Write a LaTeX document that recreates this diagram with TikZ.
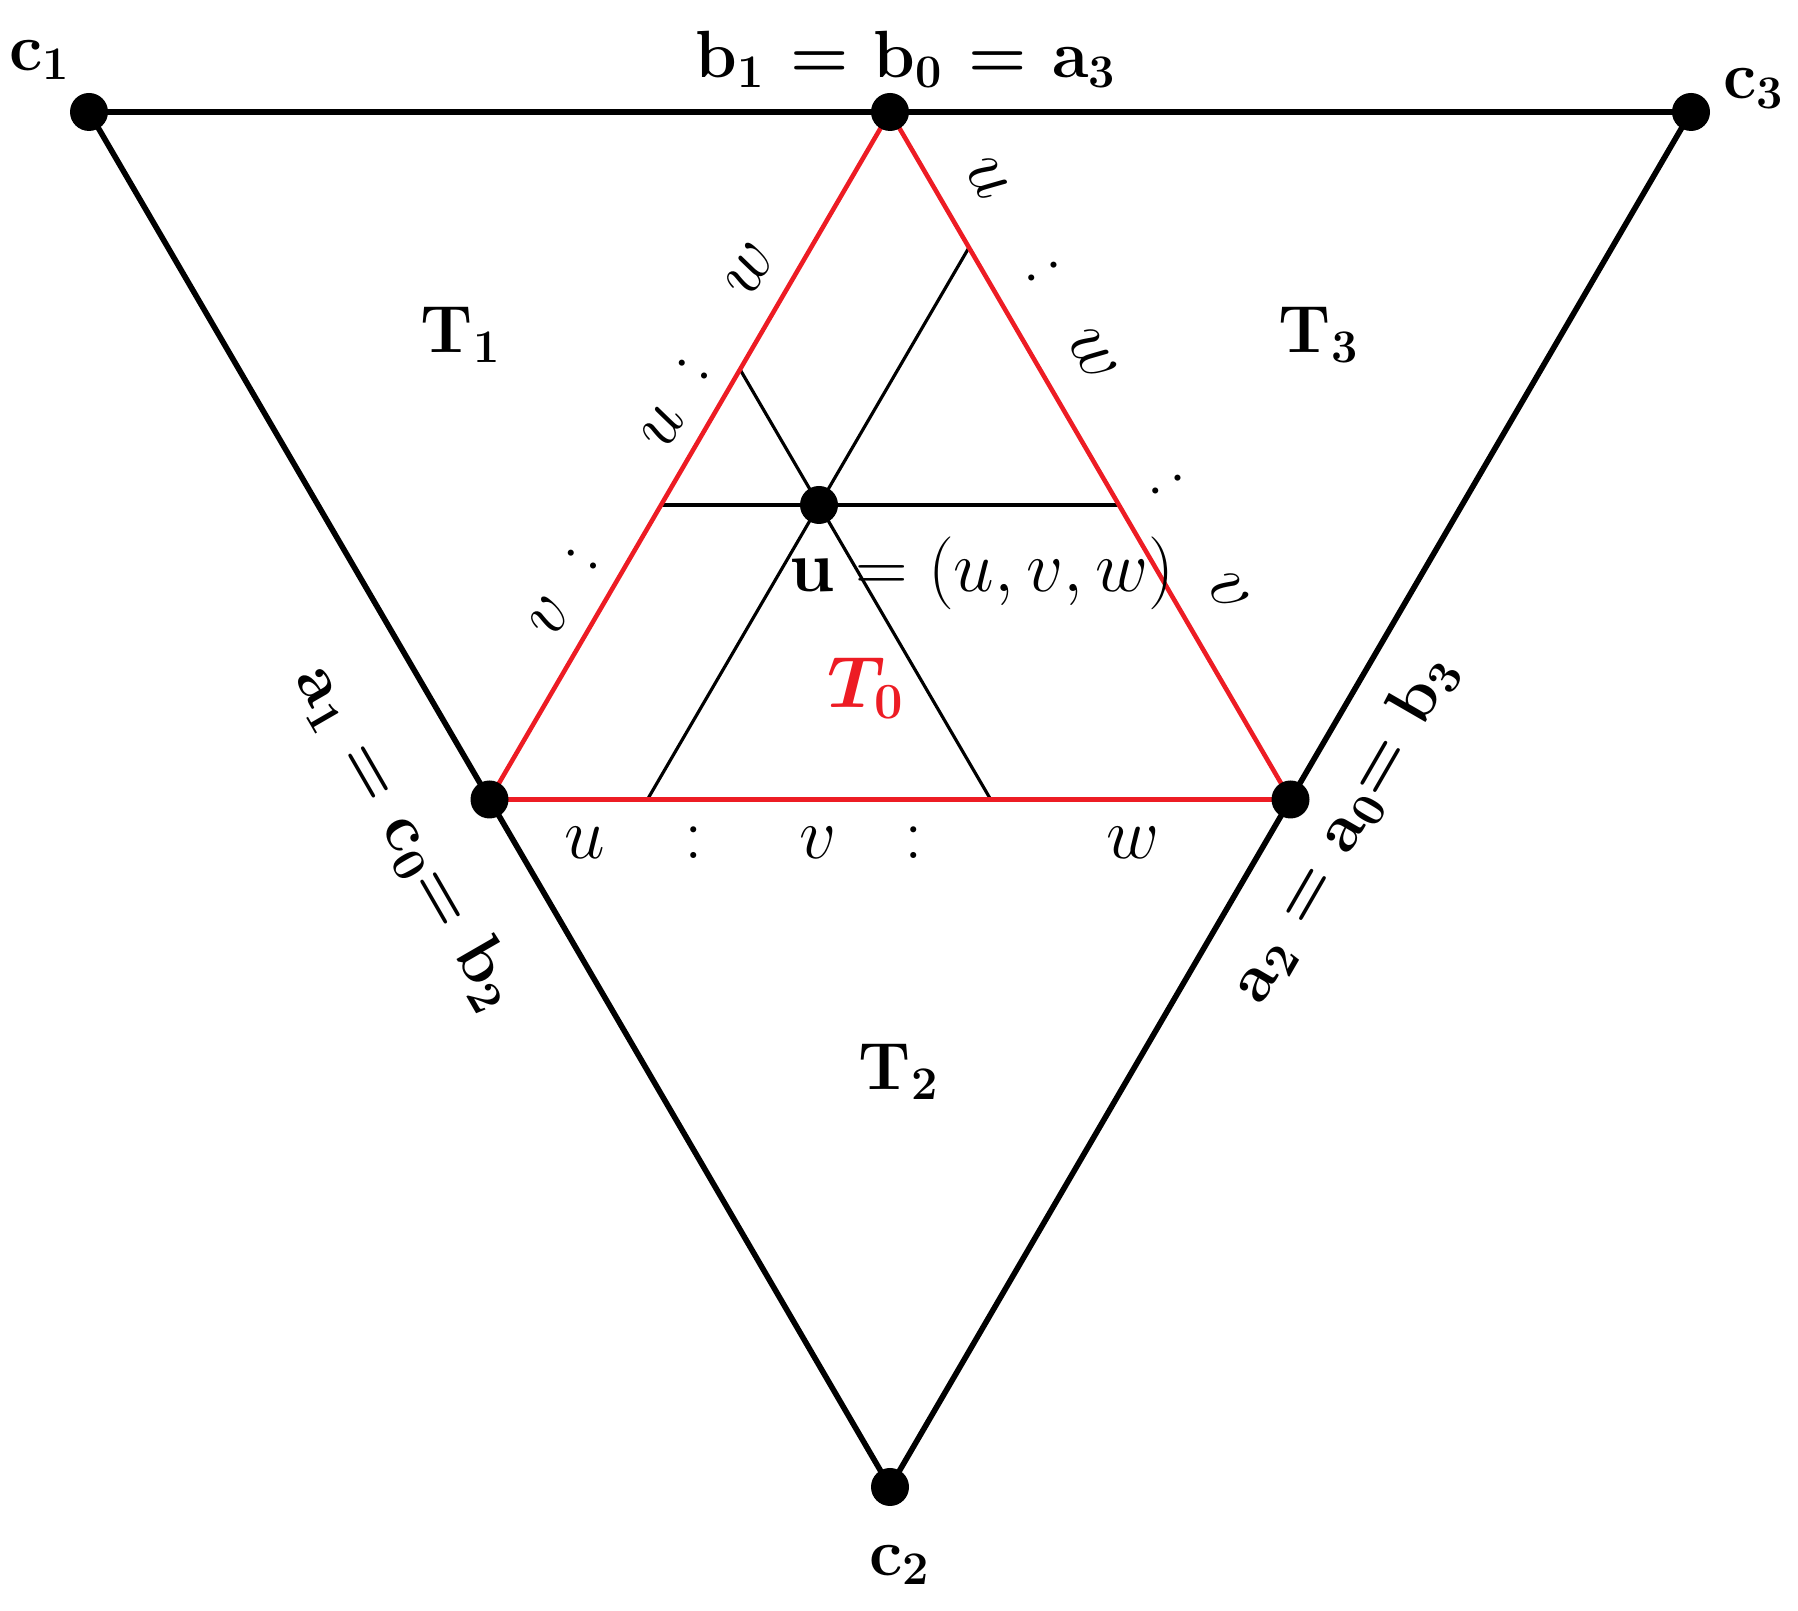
\documentclass[tikz,border=0pt]{standalone}
\usepackage{amsmath}
\usepackage{bm}
\usetikzlibrary{calc}
\definecolor{sidered}{RGB}{237,28,36}

\begin{document}
\begin{tikzpicture}[
  outer/.style={line width=1.6pt, black},
  inner/.style={line width=0.9pt, black},
  redside/.style={line width=1.3pt, sidered},
  vdot/.style={circle, fill=black, inner sep=0pt, minimum size=0.38cm},
  lab/.style={font=\fontsize{19}{21}\selectfont\bfseries, inner sep=0pt},
  ratio/.style={font=\fontsize{21}{23}\selectfont, inner sep=0pt}
]
\useasboundingbox (0,0) rectangle (17.98,16.11);

% Outer vertices
\coordinate (c1) at (0.89,14.99);
\coordinate (c3) at (16.91,14.99);
\coordinate (c2) at (8.90,1.24);
% Inner (red) vertices
\coordinate (b1) at ($(c1)!0.5!(c3)$);
\coordinate (a1) at ($(c1)!0.5!(c2)$);
\coordinate (a2) at ($(c3)!0.5!(c2)$);
% Point u and the three lines through it
\coordinate (u) at (8.19,11.06);
\coordinate (uh) at ($(u)+(1,0)$);
\coordinate (ur) at ($(u)+(b1)-(a2)$);
\coordinate (ul) at ($(u)+(b1)-(a1)$);
\coordinate (hl) at (intersection of u--uh and a1--b1);
\coordinate (hr) at (intersection of u--uh and a2--b1);
\coordinate (rl) at (intersection of u--ur and a1--b1);
\coordinate (rb) at (intersection of u--ur and a1--a2);
\coordinate (ll) at (intersection of u--ul and a2--b1);
\coordinate (lb) at (intersection of u--ul and a1--a2);

% Big triangle
\draw[outer] (c1) -- (c3) -- (c2) -- cycle;

% Lines through u
\draw[inner] (hl) -- (hr);
\draw[inner] (rl) -- (rb);
\draw[inner] (ll) -- (lb);

% Red triangle T0
\draw[redside] (a1) -- (b1) -- (a2) -- cycle;

% Dots
\foreach \p in {c1,c2,c3,b1,a1,a2,u}
  \node[vdot] (d\p) at (\p) {};

% Vertex labels
\node[lab] (lc1) at (0.40,15.51) {c\textsubscript{1}};
\node[lab] (lb1) at (9.06,15.51) {b\textsubscript{1} = b\textsubscript{0} = a\textsubscript{3}};
\node[lab] (lc3) at (17.54,15.22) {c\textsubscript{3}};
\node[lab] (lc2) at (9.00,0.46) {c\textsubscript{2}};
\node[lab, rotate=-60] (la1) at (4.07,7.74) {a\textsubscript{1} = c\textsubscript{0}= b\textsubscript{2}};
\node[lab, rotate=60] (la2) at (13.44,7.83) {a\textsubscript{2} = a\textsubscript{0}= b\textsubscript{3}};

% Region labels
\node[lab] (t1) at (4.61,12.76) {T\textsubscript{1}};
\node[lab] (t3) at (13.19,12.76) {T\textsubscript{3}};
\node[lab] (t2) at (8.99,5.39) {T\textsubscript{2}};
\node[ratio, sidered] (t0) at (8.66,9.23) {$\bm{T}_{\mathbf{0}}$};
\node[ratio, font=\fontsize{22}{24}\selectfont] (lu) at (9.82,10.38) {$\mathbf{u} = (u, v, w)$};

% Ratios on the left side
\node[ratio, rotate=60] (lv1) at (5.50,9.94) {$v$};
\node[ratio, rotate=60] (lk1) at (5.82,10.51) {:};
\node[ratio, rotate=60] (lu1) at (6.63,11.84) {$u$};
\node[ratio, rotate=60] (lk2) at (6.93,12.41) {:};
\node[ratio, rotate=60] (lw1) at (7.50,13.41) {$w$};

% Ratios on the right side
\node[ratio, rotate=-60] (ru1) at (9.87,14.33) {$u$};
\node[ratio, rotate=-60] (rk1) at (10.43,13.39) {:};
\node[ratio, rotate=-60] (rw1) at (10.92,12.56) {$w$};
\node[ratio, rotate=-60] (rk2) at (11.67,11.26) {:};
\node[ratio, rotate=-60] (rv1) at (12.28,10.19) {$v$};

% Ratios on the base
\node[ratio] (bu1) at (5.85,7.68) {$u$};
\node[ratio] (bk1) at (6.94,7.68) {:};
\node[ratio] (bv1) at (8.18,7.68) {$v$};
\node[ratio] (bk2) at (9.14,7.68) {:};
\node[ratio] (bw1) at (11.33,7.68) {$w$};
\end{tikzpicture}
\end{document}
